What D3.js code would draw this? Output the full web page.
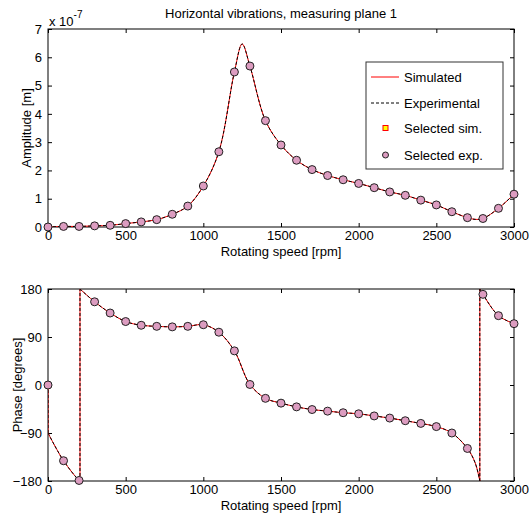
<!DOCTYPE html>
<html lang="en">
<head>
    <meta charset="UTF-8">
    <title>Horizontal vibrations, measuring plane 1</title>
    <script src="https://d3js.org/d3.v7.min.js"></script>
    <style>
        body { margin: 0; background: white; font-family: "Liberation Sans", Arial, sans-serif; }
        svg text { font-size: 13px; fill: #000; }
    </style>
</head>
<body>
    <svg width="529" height="516"></svg>
    <script>
        // selected measurement speeds [rpm]
        const speeds = [0, 100, 200, 300, 400, 500, 600, 700, 800, 900, 1000, 1100, 1200, 1300, 1400, 1500,
                        1600, 1700, 1800, 1900, 2000, 2100, 2200, 2300, 2400, 2500, 2600, 2700, 2800, 2900, 3000];
        // amplitude at selected speeds, in 1e-7 m
        const ampSel = [0.0, 0.02, 0.02, 0.04, 0.06, 0.12, 0.18, 0.26, 0.45, 0.74, 1.45, 2.66, 5.48, 5.69, 3.76, 2.90,
                        2.36, 2.03, 1.82, 1.67, 1.54, 1.39, 1.24, 1.12, 0.95, 0.78, 0.54, 0.33, 0.30, 0.66, 1.16];
        // phase at selected speeds, degrees
        const phaseSel = [0, -142, -179, 156, 135, 119, 112, 110, 109, 110, 113, 99, 64, 1, -25, -34,
                          -41, -46, -49, -52, -54, -58, -62, -67, -72, -78, -90, -119, 170, 130, 115];

        // full simulated / experimental curves (they overlap)
        const ampCurveSpeed = [0, 100, 200, 300, 400, 500, 600, 700, 800, 900, 1000, 1100, 1200, 1250, 1300, 1400, 1500,
                               1600, 1700, 1800, 1900, 2000, 2100, 2200, 2300, 2400, 2500, 2600, 2700, 2750, 2800, 2900, 3000];
        const ampCurve = [0.0, 0.02, 0.02, 0.04, 0.06, 0.12, 0.18, 0.26, 0.45, 0.74, 1.45, 2.66, 5.48, 6.47, 5.69, 3.76, 2.90,
                          2.36, 2.03, 1.82, 1.67, 1.54, 1.39, 1.24, 1.12, 0.95, 0.78, 0.54, 0.33, 0.27, 0.30, 0.66, 1.16];
        // repeated speed = phase wrap (vertical jump)
        const phaseCurveSpeed = [0, 0, 100, 200, 206, 206, 300, 400, 500, 600, 700, 800, 900, 1000, 1100, 1200, 1300, 1400, 1500,
                                 1600, 1700, 1800, 1900, 2000, 2100, 2200, 2300, 2400, 2500, 2600, 2700, 2750, 2780, 2780, 2800, 2900, 3000];
        const phaseCurve = [0, -90, -142, -179, -180, 180, 156, 135, 119, 112, 110, 109, 110, 113, 99, 64, 1, -25, -34,
                            -41, -46, -49, -52, -54, -58, -62, -67, -72, -78, -90, -119, -146, -180, 180, 170, 130, 115];

        const xTicks = [0, 500, 1000, 1500, 2000, 2500, 3000];
        const ampTicks = [0, 1, 2, 3, 4, 5, 6, 7];
        const phaseTicks = [-180, -90, 0, 90, 180];

        const svg = d3.select("svg");
        const left = 48, right = 514;
        const x = d3.scaleLinear().domain([0, 3000]).range([left, right]);
        const yAmp = d3.scaleLinear().domain([0, 7]).range([227, 29]);
        const yPh = d3.scaleLinear().domain([-180, 180]).range([481, 289]);

        const pink = "#dc9cc0";

        function drawBox(y, yTicks, id) {
            const [y0, y1] = y.range();
            const g = svg.append("g");
            // ticks inside, on all four sides
            g.append("g").attr("transform", `translate(0,${y0})`)
                .call(d3.axisBottom(x).tickValues(xTicks).tickSizeInner(-4).tickSizeOuter(0).tickPadding(4).tickFormat(d3.format("d")));
            g.append("g").attr("transform", `translate(0,${y1})`)
                .call(d3.axisTop(x).tickValues(xTicks).tickSizeInner(-4).tickSizeOuter(0).tickFormat(""));
            g.append("g").attr("transform", `translate(${left},0)`)
                .call(d3.axisLeft(y).tickValues(yTicks).tickSizeInner(-4).tickSizeOuter(0).tickPadding(6).tickFormat(d3.format("d")));
            g.append("g").attr("transform", `translate(${right},0)`)
                .call(d3.axisRight(y).tickValues(yTicks).tickSizeInner(-4).tickSizeOuter(0).tickFormat(""));
            g.selectAll(".domain").remove();
            g.selectAll(".tick line").attr("stroke", "#000");
            g.selectAll("text").attr("font-size", 13).attr("font-family", "Liberation Sans, Arial, sans-serif");
            g.append("rect").attr("x", left).attr("y", y1).attr("width", right - left).attr("height", y0 - y1)
                .attr("fill", "none").attr("stroke", "#000");
            svg.append("clipPath").attr("id", id).append("rect")
                .attr("x", left).attr("y", y1).attr("width", right - left).attr("height", y0 - y1);
        }

        function drawCurves(pts, segs, clip) {
            const curve = d3.line().x(d => x(d[0])).y(d => d[1]).curve(d3.curveCatmullRom.alpha(0.5));
            const straight = d3.line().x(d => x(d[0])).y(d => d[1]);
            const g = svg.append("g").attr("clip-path", `url(#${clip})`);
            [["#ff0000", null], ["#000", "3,2"]].forEach(([col, dash]) => {
                segs.forEach(s => {
                    g.append("path").attr("d", s.length > 1 ? curve(s) : null)
                        .attr("fill", "none").attr("stroke", col).attr("stroke-width", 1).attr("stroke-dasharray", dash);
                });
                // vertical phase wraps
                for (let i = 1; i < pts.length; i++) {
                    if (pts[i][0] === pts[i - 1][0]) {
                        g.append("path").attr("d", straight([pts[i - 1], pts[i]]))
                            .attr("fill", "none").attr("stroke", col).attr("stroke-width", 1).attr("stroke-dasharray", dash);
                    }
                }
            });
        }

        function splitSegs(pts) {
            const segs = [[]];
            pts.forEach((p, i) => {
                if (i > 0 && p[0] === pts[i - 1][0]) segs.push([]);
                segs[segs.length - 1].push(p);
            });
            return segs;
        }

        function drawMarkers(vals, y) {
            const g = svg.append("g");
            g.selectAll("rect").data(speeds).join("rect")
                .attr("x", d => x(d) - 2.5).attr("y", (d, i) => y(vals[i]) - 2.5)
                .attr("width", 5).attr("height", 5)
                .attr("fill", "#ffff00").attr("stroke", "#ff0000");
            g.selectAll("circle").data(speeds).join("circle")
                .attr("cx", d => x(d)).attr("cy", (d, i) => y(vals[i])).attr("r", 4)
                .attr("fill", pink).attr("stroke", "#222").attr("stroke-width", 1);
        }

        // --- amplitude plot
        drawBox(yAmp, ampTicks, "clipA");
        const ampPts = ampCurveSpeed.map((s, i) => [s, yAmp(ampCurve[i])]);
        drawCurves(ampPts, splitSegs(ampPts), "clipA");
        drawMarkers(ampSel, yAmp);

        svg.append("text").attr("x", 281).attr("y", 18).attr("text-anchor", "middle")
            .text("Horizontal vibrations, measuring plane 1");
        const exp = svg.append("text").attr("x", 49).attr("y", 26);
        exp.append("tspan").text("x 10");
        exp.append("tspan").attr("dy", -8).attr("font-size", 10).text("-7");
        svg.append("text").attr("x", 281).attr("y", 256).attr("text-anchor", "middle").text("Rotating speed [rpm]");
        svg.append("text").attr("transform", "translate(31,128) rotate(-90)").attr("text-anchor", "middle").text("Amplitude [m]");

        // legend
        const lg = svg.append("g");
        lg.append("rect").attr("x", 366).attr("y", 62).attr("width", 137).attr("height", 107)
            .attr("fill", "#fff").attr("stroke", "#333");
        const items = ["Simulated", "Experimental", "Selected sim.", "Selected exp."];
        const ly = [77, 103, 128, 155];
        items.forEach((t, i) => {
            lg.append("text").attr("x", 404).attr("y", ly[i] + 5).text(t);
        });
        lg.append("line").attr("x1", 371).attr("x2", 399).attr("y1", ly[0]).attr("y2", ly[0]).attr("stroke", "#ff0000");
        lg.append("line").attr("x1", 371).attr("x2", 399).attr("y1", ly[1]).attr("y2", ly[1])
            .attr("stroke", "#000").attr("stroke-dasharray", "3,2");
        lg.append("rect").attr("x", 383).attr("y", ly[2] - 2.5).attr("width", 5).attr("height", 5)
            .attr("fill", "#ffff00").attr("stroke", "#ff0000");
        lg.append("circle").attr("cx", 385.5).attr("cy", ly[3]).attr("r", 3)
            .attr("fill", pink).attr("stroke", "#222");

        // --- phase plot
        drawBox(yPh, phaseTicks, "clipP");
        const phPts = phaseCurveSpeed.map((s, i) => [s, yPh(phaseCurve[i])]);
        drawCurves(phPts, splitSegs(phPts), "clipP");
        drawMarkers(phaseSel, yPh);
        svg.append("text").attr("x", 281).attr("y", 510).attr("text-anchor", "middle").text("Rotating speed [rpm]");
        svg.append("text").attr("transform", "translate(22,385) rotate(-90)").attr("text-anchor", "middle").text("Phase [degrees]");
    </script>
</body>
</html>
